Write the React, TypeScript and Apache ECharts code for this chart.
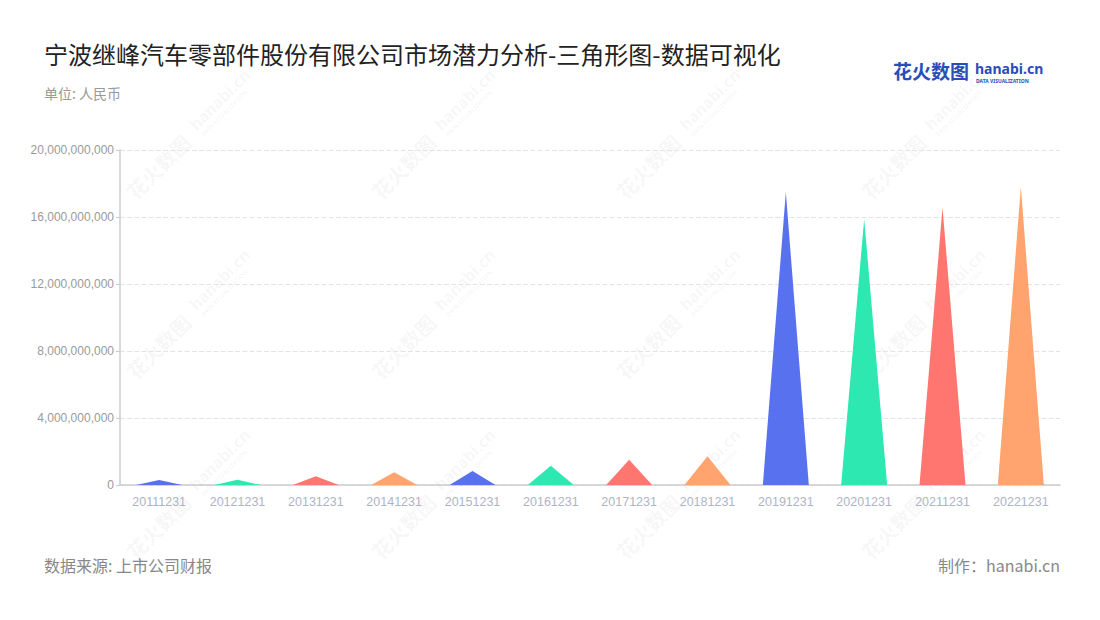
import React, { useEffect, useRef } from "react";
import * as echarts from "echarts";

const categories = [
  "20111231", "20121231", "20131231", "20141231", "20151231", "20161231",
  "20171231", "20181231", "20191231", "20201231", "20211231", "20221231",
];
const values = [
  300000000, 320000000, 520000000, 760000000, 840000000, 1150000000,
  1510000000, 1710000000, 17470000000, 15880000000, 16570000000, 17810000000,
];
const palette = ["#5872EF", "#2DE8B1", "#FF7670", "#FFA36F"];
const yTicks = [0, 4000000000, 8000000000, 12000000000, 16000000000, 20000000000];

const title = "宁波继峰汽车零部件股份有限公司市场潜力分析-三角形图-数据可视化";
const unit = "单位: 人民币";
const source = "数据来源: 上市公司财报";
const maker = "制作：hanabi.cn";

function watermark(x: number, y: number) {
  return {
    type: "group",
    x,
    y,
    rotation: Math.PI / 4,
    silent: true,
    z: 100,
    children: [
      {
        type: "text",
        x: 0,
        y: 0,
        style: {
          text: "花火数图",
          font: "bold 20px 'Noto Sans CJK SC'",
          fill: "rgba(0,0,0,0.05)",
          textVerticalAlign: "middle",
        },
      },
      {
        type: "text",
        x: 92,
        y: -4,
        style: {
          text: "hanabi.cn",
          font: "bold 16px 'Noto Sans'",
          fill: "rgba(0,0,0,0.05)",
          textVerticalAlign: "middle",
        },
      },
      {
        type: "text",
        x: 93,
        y: 9,
        style: {
          text: "DATA VISUALIZATION",
          font: "bold 6px 'Noto Sans'",
          fill: "rgba(0,0,0,0.05)",
          textVerticalAlign: "middle",
        },
      },
    ],
  };
}

export default function App() {
  const ref = useRef<HTMLDivElement>(null);
  useEffect(() => {
    if (!ref.current) return;
    const chart = echarts.init(ref.current, undefined, { renderer: "svg" });
    const wm: any[] = [];
    const xs = [150, 395, 640, 885];
    const ys = [185, 365, 545];
    ys.forEach((y) => xs.forEach((x) => wm.push(watermark(x - 20, y + 10))));
    chart.setOption({
      animation: false,
      backgroundColor: "#ffffff",
      title: [
        {
          text: title,
          left: 44,
          top: 41,
          padding: 0,
          textStyle: {
            fontSize: 24,
            fontWeight: "normal",
            color: "#222222",
            fontFamily: "'Noto Sans CJK SC'",
          },
        },
        {
          text: unit,
          left: 44,
          top: 86,
          padding: 0,
          textStyle: {
            fontSize: 14,
            fontWeight: "normal",
            color: "#999999",
            fontFamily: "'Noto Sans CJK SC'",
          },
        },
      ],
      graphic: [
        {
          type: "text",
          left: 44,
          top: 557,
          style: {
            text: source,
            font: "16px 'Noto Sans CJK SC'",
            fill: "#888888",
          },
        },
        {
          type: "text",
          right: 40,
          top: 557,
          style: {
            text: maker,
            font: "16px 'Noto Sans CJK SC'",
            fill: "#888888",
          },
        },
        {
          type: "text",
          left: 893,
          top: 61,
          style: {
            text: "花火数图",
            font: "bold 19px 'Noto Sans CJK SC'",
            fill: "#2A4DB8",
          },
        },
        {
          type: "text",
          left: 975,
          top: 61,
          style: {
            text: "hanabi.cn",
            font: "bold 14px 'Noto Sans'",
            fill: "#2A4DB8",
          },
        },
        {
          type: "text",
          left: 976,
          top: 78,
          style: {
            text: "DATA VISUALIZATION",
            font: "bold 5px 'Noto Sans'",
            fill: "#2A4DB8",
          },
        },
        ...wm,
      ],
      grid: { left: 120, right: 40, top: 150, bottom: 135, containLabel: false },
      xAxis: {
        type: "category",
        data: categories,
        axisLine: { lineStyle: { color: "#cccccc", width: 1.5 } },
        axisTick: { alignWithLabel: true, lineStyle: { color: "#cccccc" } },
        axisLabel: { color: "#aeb4c4", fontSize: 12.5, margin: 10 },
      },
      yAxis: {
        type: "value",
        min: yTicks[0],
        max: yTicks[yTicks.length - 1],
        interval: yTicks[1] - yTicks[0],
        axisLine: { show: true, lineStyle: { color: "#cccccc", width: 1.5 } },
        axisTick: { show: true, length: 4, lineStyle: { color: "#cccccc" } },
        axisLabel: {
          color: "#9a9a9a",
          fontSize: 12,
          margin: 6,
          formatter: (v: number) => v.toLocaleString("en-US"),
        },
        splitLine: { lineStyle: { color: "#e3e3e3", type: "dashed", width: 1.2 } },
      },
      series: [
        {
          type: "pictorialBar",
          symbol: "triangle",
          barWidth: 46,
          symbolSize: ["100%", "100%"],
          data: values.map((v, i) => ({
            value: v,
            itemStyle: { color: palette[i % palette.length] },
          })),
        },
      ],
    });
    return () => chart.dispose();
  }, []);
  return (
    <div
      ref={ref}
      style={{ position: "fixed", left: 0, top: 0, width: 1100, height: 620 }}
    />
  );
}
